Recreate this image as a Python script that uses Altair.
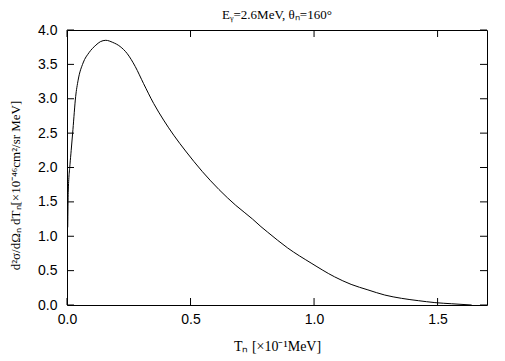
import altair as alt
import pandas as pd

# Curve (T_n in units of 0.1 MeV, cross-section)
tn = [0.003, 0.005, 0.012, 0.017, 0.024, 0.035, 0.045, 0.065, 0.089, 0.117,
      0.135, 0.157, 0.185, 0.215, 0.243, 0.276, 0.310, 0.351, 0.391, 0.432,
      0.480, 0.548, 0.615, 0.683, 0.751, 0.785, 0.812, 0.893, 0.988, 1.083,
      1.150, 1.218, 1.286, 1.354, 1.422, 1.489, 1.557, 1.638]
xs = [1.13, 1.64, 2.04, 2.25, 2.55, 3.03, 3.27, 3.52, 3.67, 3.78,
      3.83, 3.85, 3.82, 3.76, 3.66, 3.47, 3.22, 2.93, 2.69, 2.47,
      2.24, 1.94, 1.68, 1.45, 1.25, 1.14, 1.06, 0.83, 0.61, 0.41,
      0.30, 0.22, 0.145, 0.097, 0.063, 0.035, 0.018, 0.0]

x_ticks = [0.0, 0.5, 1.0, 1.5]
y_ticks = [0.0, 0.5, 1.0, 1.5, 2.0, 2.5, 3.0, 3.5, 4.0]

title_text = "Eᵧ=2.6MeV,  θₙ=160°"
x_title = "Tₙ [×10⁻¹MeV]"
y_title = "d²σ/dΩₙ dTₙ[×10⁻⁴⁶cm²/sr MeV]"

df = pd.DataFrame({"x": tn, "y": xs})
xt = pd.DataFrame({"x": x_ticks})
yt = pd.DataFrame({"y": y_ticks})

W, H = 420, 275
TL = 7
xscale = alt.Scale(domain=[0, 1.7], nice=False, zero=False)
yscale = alt.Scale(domain=[0, 4], nice=False, zero=False)

main = alt.Chart(df).mark_line(color="black", strokeWidth=1,
                               interpolate="monotone").encode(
    x=alt.X("x:Q", scale=xscale, axis=alt.Axis(
        orient="bottom", values=x_ticks, format=".1f", ticks=False, domain=False,
        grid=False, labelPadding=7, labelFlush=False, labelOverlap=False,
        labelFont="Liberation Sans", labelFontSize=14, labelColor="black",
        title=x_title, titleFont="Liberation Serif", titleFontSize=14,
        titleFontWeight="normal", titleColor="black", titlePadding=13)),
    y=alt.Y("y:Q", scale=yscale, axis=alt.Axis(
        orient="left", values=y_ticks, format=".1f", ticks=False, domain=False,
        grid=False, labelPadding=10, labelOverlap=False,
        labelFont="Liberation Sans", labelFontSize=14, labelColor="black",
        title=y_title, titleFont="Liberation Serif", titleFontSize=13,
        titleFontWeight="normal", titleColor="black", titleAngle=-90,
        titleAlign="center", titleBaseline="middle", titleX=-52, titleY=155)),
)

rule_style = dict(color="black", strokeWidth=1)
xt_bottom = alt.Chart(xt).mark_rule(**rule_style).encode(
    x=alt.X("x:Q", scale=xscale, axis=None), y=alt.value(H), y2=alt.value(H - TL))
xt_top = alt.Chart(xt).mark_rule(**rule_style).encode(
    x=alt.X("x:Q", scale=xscale, axis=None), y=alt.value(0), y2=alt.value(TL))
yt_left = alt.Chart(yt).mark_rule(**rule_style).encode(
    y=alt.Y("y:Q", scale=yscale, axis=None), x=alt.value(0), x2=alt.value(TL))
yt_right = alt.Chart(yt).mark_rule(**rule_style).encode(
    y=alt.Y("y:Q", scale=yscale, axis=None), x=alt.value(W), x2=alt.value(W - TL))

chart = alt.layer(main, xt_bottom, xt_top, yt_left, yt_right).resolve_axis(
    x="independent", y="independent"
).properties(
    width=W, height=H,
    title=alt.TitleParams(title_text, font="Liberation Serif", fontSize=13,
                          fontWeight="normal", color="black", offset=1,
                          anchor="middle", frame="group"),
    autosize=alt.AutoSizeParams(type="none"),
    padding={"left": 59, "top": 22, "right": 10, "bottom": 60},
    background="white",
).configure_view(stroke="black", strokeWidth=1)

chart.save("out.html", embed_options={"renderer": "svg", "actions": False})
